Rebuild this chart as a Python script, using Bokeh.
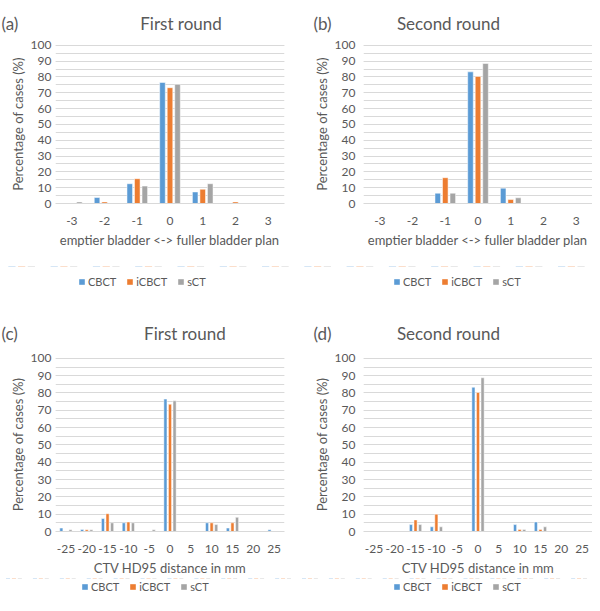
from bokeh.plotting import figure
from bokeh.models import (Range1d, Legend, LegendItem, SingleIntervalTicker,
                          ColumnDataSource)
from bokeh.transform import dodge
from bokeh.layouts import column, row
from bokeh.embed import file_html
from bokeh.resources import INLINE

# ---------------- data ----------------
series_names = ["CBCT", "iCBCT", "sCT"]
series_colors = ["#5B9BD5", "#ED7D31", "#A5A5A5"]

bladder_cats = ["-3", "-2", "-1", "0", "1", "2", "3"]
a_cbct = [0, 3.8, 12.5, 76.5, 7.3, 0, 0]
a_icbct = [0, 1.0, 15.7, 73.2, 9.0, 1.0, 0]
a_sct = [1.0, 0, 11.0, 75.3, 12.5, 0, 0]

b_cbct = [0, 0, 6.5, 83.2, 9.7, 0, 0]
b_icbct = [0, 0, 16.3, 80.3, 2.5, 0, 0]
b_sct = [0, 0, 6.5, 88.5, 3.6, 0, 0]

hd_cats = ["-25", "-20", "-15", "-10", "-5", "0", "5", "10", "15", "20", "25"]
c_cbct = [2.0, 1.2, 7.5, 5.0, 0, 76.5, 0, 5.0, 2.0, 0, 1.0]
c_icbct = [0, 1.0, 10.3, 5.5, 0, 73.5, 0, 5.0, 5.0, 0, 0]
c_sct = [1.0, 1.0, 5.0, 5.0, 1.0, 75.5, 0, 4.0, 8.2, 0, 0]

d_cbct = [0, 0, 4.0, 2.7, 0, 83.3, 0, 4.0, 5.5, 0, 0]
d_icbct = [0, 0, 6.7, 10.0, 0, 80.3, 0, 1.2, 1.2, 0, 0]
d_sct = [0, 0, 4.0, 2.7, 0, 88.8, 0, 1.2, 2.7, 0, 0]

FONT = "Lato"
TXT = "#595959"
GRID = "#D9D9D9"
NB = "\u00a0"


def make_panel(tag, title, cats, cb, ic, sc, xlabel, lay):
    w, h = lay["w"], lay["h"]
    p = figure(width=w, height=h, x_range=cats,
               y_range=Range1d(0, 100.5), output_backend="svg",
               toolbar_location=None, min_border_left=lay["left"],
               min_border_right=lay["right"], min_border_top=lay["top"],
               min_border_bottom=lay["bottom"])
    p.x_range.range_padding = 0
    p.outline_line_color = None
    src = ColumnDataSource(dict(cat=cats, CBCT=cb, iCBCT=ic, sCT=sc))
    offs = [-lay["off"], 0.0, lay["off"]]
    for name, col, o in zip(series_names, series_colors, offs):
        p.vbar(x=dodge("cat", o, range=p.x_range), top=name, width=lay["bw"],
               source=src, fill_color=col, line_color="white", line_width=0.5)

    # title (panel tag + title on one line)
    p.title.text = tag + NB * lay["gap"] + title
    p.title.align = "left"
    p.title.offset = lay["tagx"] - lay["left"]
    p.title.text_font = FONT
    p.title.text_font_size = "17px"
    p.title.text_font_style = "normal"
    p.title.text_color = TXT
    p.title.standoff = lay["tstand"]

    # y axis
    ya = p.yaxis[0]
    ya.ticker = SingleIntervalTicker(interval=10, num_minor_ticks=2)
    ya.axis_line_color = None
    ya.major_tick_line_color = None
    ya.minor_tick_line_color = None
    ya.major_tick_out = 0
    ya.minor_tick_out = 0
    ya.major_tick_in = 0
    ya.minor_tick_in = 0
    ya.major_label_text_font = FONT
    ya.major_label_text_font_size = "12px"
    ya.major_label_text_color = TXT
    ya.major_label_standoff = lay["ystand"]
    ya.axis_label = "Percentage of cases (%)"
    ya.axis_label_text_font = FONT
    ya.axis_label_text_font_size = "13px"
    ya.axis_label_text_font_style = "normal"
    ya.axis_label_text_color = TXT
    ya.axis_label_standoff = 2
    p.ygrid.grid_line_color = GRID
    p.ygrid.minor_grid_line_color = GRID
    p.xgrid.grid_line_color = None

    # x axis
    xa = p.xaxis[0]
    xa.axis_line_color = GRID
    xa.major_tick_line_color = None
    xa.minor_tick_line_color = None
    xa.major_label_text_font = FONT
    xa.major_label_text_font_size = "12px"
    xa.major_label_text_color = TXT
    xa.major_label_standoff = 7
    xa.axis_label = xlabel
    xa.axis_label_text_font = FONT
    xa.axis_label_text_font_size = "13px"
    xa.axis_label_text_font_style = "normal"
    xa.axis_label_text_color = TXT
    xa.axis_label_standoff = 4
    return p, src


def make_legend(cats, src, lay):
    # a thin strip below each panel that only carries the legend; its bars use
    # the panel's data but lie outside its (negative) y range
    q = figure(width=lay["w"], height=lay["lh"], x_range=cats,
               y_range=Range1d(-20, -10), x_axis_type=None, y_axis_type=None,
               output_backend="svg", toolbar_location=None, title=None,
               min_border=0)
    q.outline_line_color = None
    q.grid.visible = False
    offs = [-lay["off"], 0.0, lay["off"]]
    rends = [q.vbar(x=dodge("cat", o, range=q.x_range), top=n, width=lay["bw"],
                    source=src, fill_color=c, line_color=None)
             for n, c, o in zip(series_names, series_colors, offs)]
    items = [LegendItem(label=n, renderers=[r]) for n, r in zip(series_names, rends)]
    leg = Legend(items=items, orientation="horizontal", location=(lay["legx"], lay["legy"]),
                 border_line_color=None, background_fill_alpha=0,
                 glyph_width=7, glyph_height=7, label_text_font=FONT,
                 label_text_font_size="11px", label_text_color=TXT,
                 label_standoff=3, spacing=10, padding=0, margin=0,
                 label_height=10)
    q.add_layout(leg)
    return q


lay_a = dict(w=296, h=266, left=55, right=12, top=37, bottom=63, off=0.23, bw=0.17,
             tagx=1, gap=28, tstand=21, ystand=4, lh=26, legx=78, legy=4)
lay_b = dict(w=296, h=266, left=67, right=0, top=37, bottom=63, off=0.23, bw=0.17,
             tagx=17, gap=15, tstand=21, ystand=8, lh=26, legx=97, legy=4)
lay_c = dict(w=296, h=286, left=55, right=12, top=65, bottom=47, off=0.22, bw=0.15,
             tagx=1, gap=29, tstand=28, ystand=4, lh=17, legx=81, legy=2)
lay_d = dict(w=296, h=286, left=67, right=0, top=65, bottom=47, off=0.22, bw=0.15,
             tagx=17, gap=15, tstand=28, ystand=8, lh=17, legx=97, legy=2)

pa, sa = make_panel("(a)", "First round", bladder_cats, a_cbct, a_icbct, a_sct,
                    "emptier bladder <-> fuller bladder plan", lay_a)
pb, sb = make_panel("(b)", "Second round", bladder_cats, b_cbct, b_icbct, b_sct,
                    "emptier bladder <-> fuller bladder plan", lay_b)
pc, sc_ = make_panel("(c)", "First round", hd_cats, c_cbct, c_icbct, c_sct,
                     "CTV HD95 distance in mm", lay_c)
pd_, sd = make_panel("(d)", "Second round", hd_cats, d_cbct, d_icbct, d_sct,
                     "CTV HD95 distance in mm", lay_d)

layout = column(row(pa, pb),
                row(make_legend(bladder_cats, sa, lay_a), make_legend(bladder_cats, sb, lay_b)),
                row(pc, pd_),
                row(make_legend(hd_cats, sc_, lay_c), make_legend(hd_cats, sd, lay_d)))
open("out.html", "w").write(file_html(layout, INLINE))
